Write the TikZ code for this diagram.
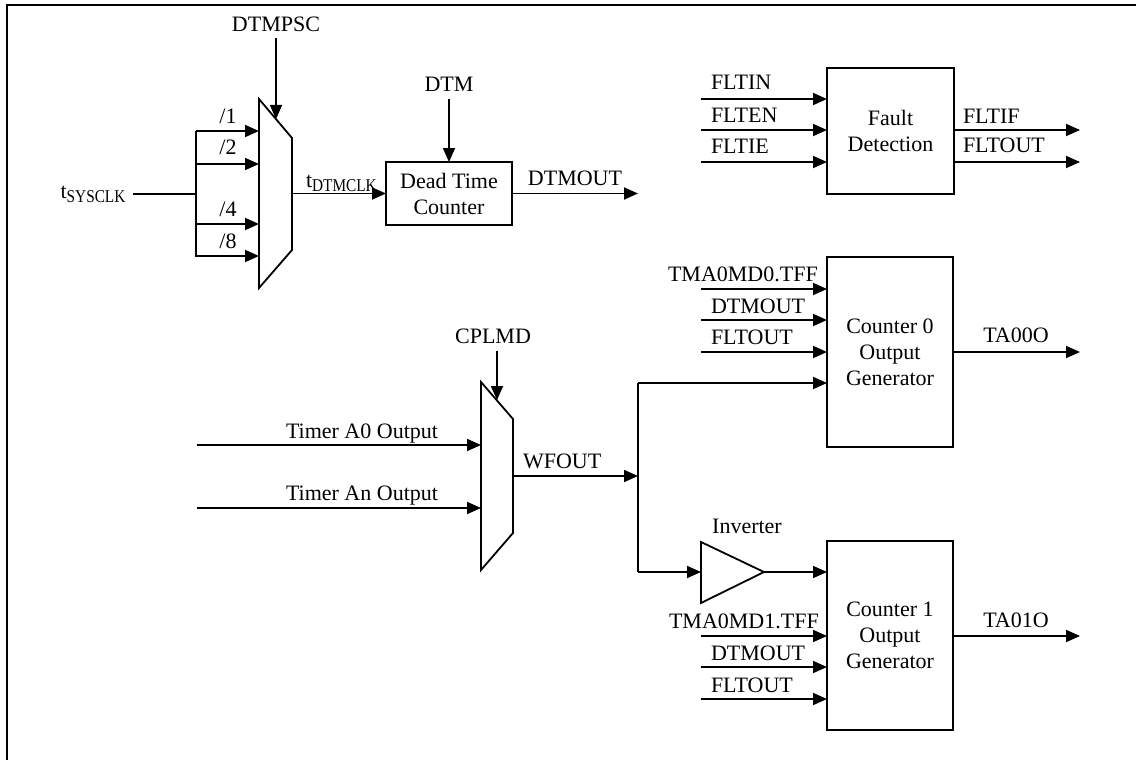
\documentclass[tikz,border=0pt]{standalone}
\usepackage{fontspec}
\setmainfont{Liberation Serif}
\usepackage{graphicx}
\usetikzlibrary{arrows.meta}
\newcommand{\subtxt}[1]{\raisebox{-4pt}{\fontsize{18}{18}\selectfont\scalebox{0.85}[1]{#1}}}
\begin{document}
\begin{tikzpicture}[x=1pt,y=-1pt,
  every node/.style={font=\fontsize{22}{26}\selectfont, inner sep=0pt, outer sep=0pt},
  box/.style={draw, line width=1.9pt, align=center},
  lbl/.style={anchor=base},
  lblw/.style={anchor=base west},
  arr/.style={line width=1.8pt, -{Triangle[length=14pt,width=12pt]}},
  wire/.style={line width=1.8pt},
  ]
\useasboundingbox (0,0) rectangle (1136,760);
\draw[line width=2pt] (7,760) -- (7,5) -- (1136,5);

% ---------- DTMPSC mux ----------
\coordinate (m1a) at (259,99);
\coordinate (m1b) at (292,138);
\coordinate (m1c) at (292,250);
\coordinate (m1d) at (259,288);
\draw[wire] (m1a) -- (m1b) -- (m1c) -- (m1d) -- cycle;
\node[lbl] (dtmpsc) at (276,32) {DTMPSC};
\coordinate (dtmpscsrc) at (276,38);
\coordinate (m1sel) at (276,119);
\draw[arr] (dtmpscsrc) -- (m1sel);

\coordinate (bus1) at (196,131);
\coordinate (bus8) at (196,257);
\draw[wire] (bus1) -- (bus8);
\node[lbl] (tsys) at (93,198) {t\subtxt{SYSCLK}};
\coordinate (sysin) at (133,194);
\draw[wire] (sysin) -- (sysin -| bus1);

\coordinate (d1) at (196,131);
\coordinate (d2) at (196,164);
\coordinate (d4) at (196,224);
\coordinate (d8) at (196,256);
\foreach \c in {d1,d2,d4,d8} { \draw[arr] (\c) -- (\c -| m1a); }
\node[lbl] (l1) at (228,123) {/1};
\node[lbl] (l2) at (228,154) {/2};
\node[lbl] (l4) at (228,216) {/4};
\node[lbl] (l8) at (228,248) {/8};

% ---------- Dead time counter ----------
\node[box, minimum width=126pt, minimum height=63pt] (dtc) at (449,193.5) {Dead Time\\Counter};
\coordinate (m1out) at (292,193.5);
\draw[arr] (m1out) -- (dtc.west);
\node[lblw] (tdtm) at (306,187) {t\subtxt{DTMCLK}};
\node[lbl] (dtm) at (449,92) {DTM};
\coordinate (dtmsrc) at (449,99);
\draw[arr] (dtmsrc) -- (dtc.north);
\coordinate (dtmoutend) at (638,193.5);
\draw[arr] (dtc.east) -- (dtmoutend);
\node[lbl] (dtmoutl) at (575,185) {DTMOUT};

% ---------- Fault detection ----------
\node[box, minimum width=127pt, minimum height=126pt] (fd) at (890.5,131) {Fault\\Detection};
\coordinate (fi1) at (701,99);
\coordinate (fi2) at (701,130);
\coordinate (fi3) at (701,162);
\foreach \c in {fi1,fi2,fi3} { \draw[arr] (\c) -- (\c -| fd.west); }
\node[lblw] (fltin) at (711,90) {FLTIN};
\node[lblw] (flten) at (711,122) {FLTEN};
\node[lblw] (fltie) at (711,153) {FLTIE};
\coordinate (fo1) at (1080,130);
\coordinate (fo2) at (1080,162);
\draw[arr] (fo1 -| fd.east) -- (fo1);
\draw[arr] (fo2 -| fd.east) -- (fo2);
\node[lblw] (fltif) at (963,123) {FLTIF};
\node[lblw] (fltout) at (963,152) {FLTOUT};

% ---------- Counter 0 ----------
\node[box, minimum width=126pt, minimum height=190pt] (c0) at (890,352) {Counter 0\\Output\\Generator};
\coordinate (c0i1) at (701,289);
\coordinate (c0i2) at (701,320);
\coordinate (c0i3) at (701,352);
\foreach \c in {c0i1,c0i2,c0i3} { \draw[arr] (\c) -- (\c -| c0.west); }
\node[lblw] (c0t1) at (668,281) {TMA0MD0.TFF};
\node[lblw] (c0t2) at (711,313) {DTMOUT};
\node[lblw] (c0t3) at (711,344) {FLTOUT};
\coordinate (c0o) at (1080,352);
\draw[arr] (c0o -| c0.east) -- (c0o);
\node[lbl] (ta00o) at (1016,342) {TA00O};

% ---------- Counter 1 ----------
\node[box, minimum width=126pt, minimum height=189pt] (c1) at (890,635.5) {Counter 1\\Output\\Generator};
\coordinate (c1i1) at (701,636);
\coordinate (c1i2) at (701,667);
\coordinate (c1i3) at (701,699);
\foreach \c in {c1i1,c1i2,c1i3} { \draw[arr] (\c) -- (\c -| c1.west); }
\node[lblw] (c1t1) at (669,628) {TMA0MD1.TFF};
\node[lblw] (c1t2) at (711,660) {DTMOUT};
\node[lblw] (c1t3) at (711,692) {FLTOUT};
\coordinate (c1o) at (1080,636);
\draw[arr] (c1o -| c1.east) -- (c1o);
\node[lbl] (ta01o) at (1016,627) {TA01O};

% ---------- CPLMD mux ----------
\coordinate (m2a) at (481,382);
\coordinate (m2b) at (513,419);
\coordinate (m2c) at (513,533);
\coordinate (m2d) at (481,570);
\draw[wire] (m2a) -- (m2b) -- (m2c) -- (m2d) -- cycle;
\node[lbl] (cplmd) at (493,343) {CPLMD};
\coordinate (cplmdsrc) at (497,351);
\coordinate (m2sel) at (497,400);
\draw[arr] (cplmdsrc) -- (m2sel);
\coordinate (ta0in) at (197,445);
\coordinate (tanin) at (197,508);
\draw[arr] (ta0in) -- (ta0in -| m2a);
\draw[arr] (tanin) -- (tanin -| m2a);
\node[lbl] (ta0l) at (362,438) {Timer A0 Output};
\node[lbl] (tanl) at (362,500) {Timer An Output};

% ---------- WFOUT distribution ----------
\coordinate (m2out) at (513,476);
\coordinate (jn) at (638,476);
\coordinate (jtop) at (638,383);
\coordinate (jbot) at (638,572);
\draw[arr] (m2out) -- (jn);
\draw[wire] (jtop) -- (jbot);
\draw[arr] (jtop) -- (jtop -| c0.west);
\node[lblw] (wfout) at (523,468) {WFOUT};

% ---------- Inverter ----------
\coordinate (inva) at (701,542);
\coordinate (invtip) at (764,572);
\coordinate (invb) at (701,603);
\coordinate (invin) at (701,572);
\draw[wire] (inva) -- (invtip) -- (invb) -- cycle;
\draw[arr] (jbot) -- (invin);
\draw[arr] (invtip) -- (invtip -| c1.west);
\node[lbl] (invl) at (747,533) {Inverter};
\end{tikzpicture}
\end{document}
